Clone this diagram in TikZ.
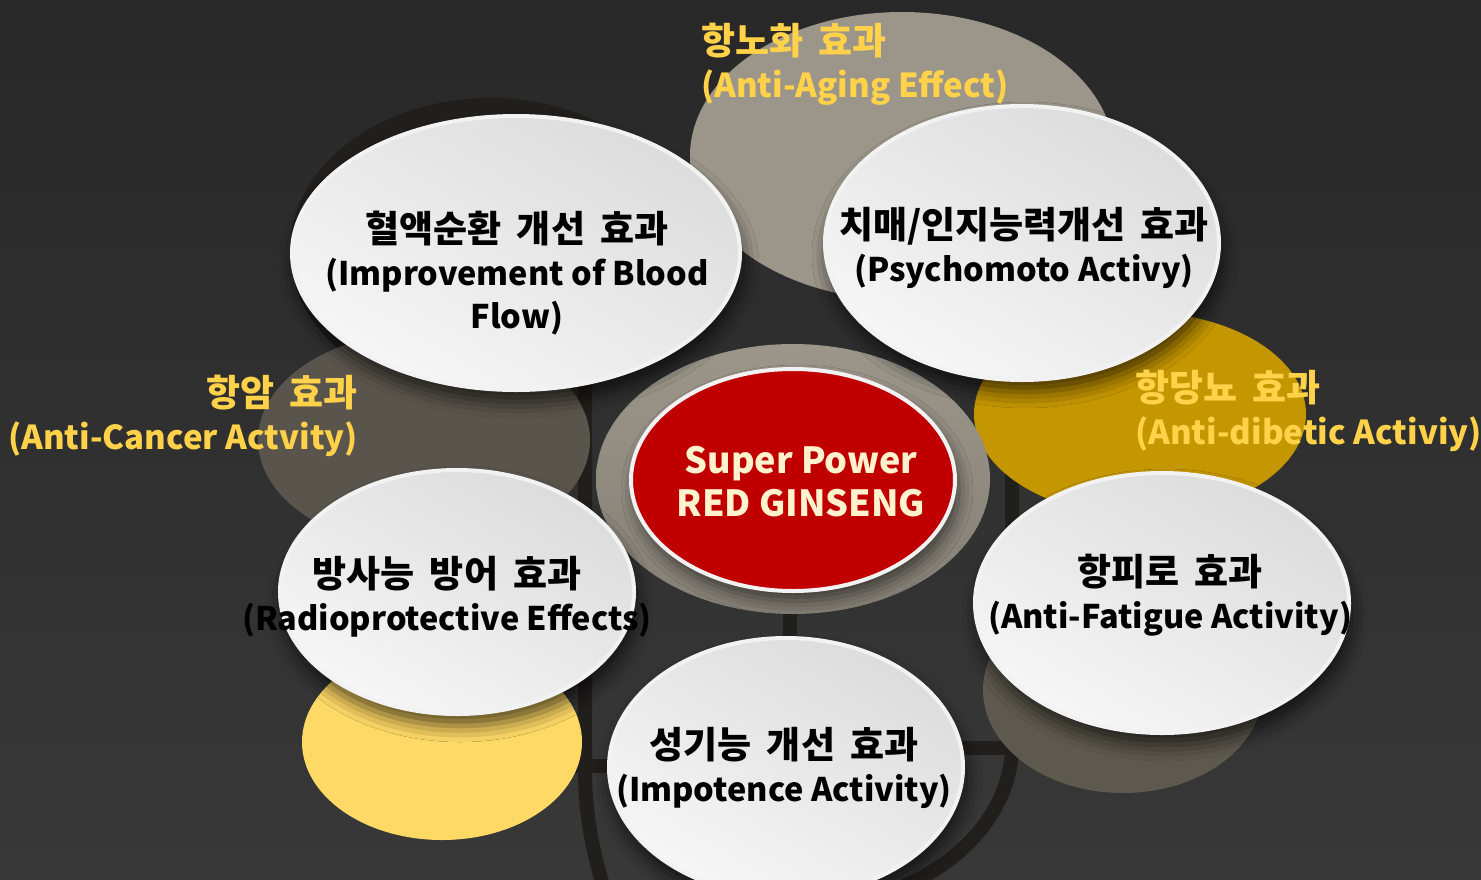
\documentclass[tikz,border=0pt]{standalone}
\usepackage{fontspec}
\setmainfont{Noto Sans CJK KR}
\usetikzlibrary{shapes.geometric,shadows.blur}
\definecolor{bgtop}{HTML}{282828}
\definecolor{bgbot}{HTML}{383838}
\definecolor{lblyellow}{HTML}{FFD24A}
\definecolor{aginggray}{HTML}{9C968A}
\definecolor{cancerbrown}{HTML}{5A554C}
\definecolor{golddark}{HTML}{C49600}
\definecolor{fatiguebrown}{HTML}{5E594E}
\definecolor{paleyellow}{HTML}{FFD966}
\definecolor{ginsengred}{HTML}{C00000}
\definecolor{redtext}{HTML}{FFF2CC}
\definecolor{structdark}{HTML}{211F1B}
\definecolor{whitetop}{HTML}{DCDCDC}
\definecolor{whitebot}{HTML}{F6F6F6}
\definecolor{rimwhite}{HTML}{F2F2F2}
\newcommand\krline[1]{{\fontsize{37}{43}\selectfont\spaceskip=15pt\relax #1}}
\tikzset{
  oval/.style={ellipse, inner sep=0pt, outer sep=0pt},
  colored/.style={oval, draw=none},
  whiteoval/.style={oval, top color=whitetop, bottom color=whitebot, shading angle=-30,
     draw=rimwhite, line width=4pt,
     blur shadow={shadow xshift=3pt, shadow yshift=-12pt, shadow blur radius=16pt, shadow opacity=65}},
  bodytext/.style={align=center, font=\bfseries\fontsize{32.5}{43}\selectfont, text=black, inner sep=0pt},
  labeltext/.style={font=\bfseries\fontsize{33}{43}\selectfont, text=lblyellow, inner sep=0pt},
  structline/.style={draw=structdark, line width=14pt},
}
\begin{document}
\begin{tikzpicture}[x=1pt,y=-1pt]
\useasboundingbox (0,0) rectangle (1481,879);
\shade[top color=bgtop, bottom color=bgbot] (0,0) rectangle (1481,879);

% background structure
\coordinate (sl1) at (585,320);
\coordinate (sl2) at (585,770);
\coordinate (sl3) at (606,895);
\coordinate (sr1) at (1012,360);
\coordinate (sr2) at (1012,745);
\coordinate (sr3) at (880,895);
\coordinate (sc1) at (790,600);
\coordinate (sc2) at (790,655);
\coordinate (sh1) at (570,766);
\coordinate (sh2) at (620,766);
\coordinate (sh3) at (955,748);
\coordinate (sh4) at (1012,748);
\draw[structline] (sl1) -- (sl2) .. controls (585,820) and (595,860) .. (sl3);
\draw[structline] (sr1) -- (sr2) .. controls (1012,810) and (960,870) .. (sr3);
\draw[structline] (sc1) -- (sc2);
\draw[structline] (sh1) -- (sh2);
\draw[structline] (sh3) -- (sh4);

% colored back ellipses
\node[colored, fill=structdark, minimum width=400pt, minimum height=304pt] (blooddark) at (490,250) {};
\node[colored, fill=aginggray, minimum width=424pt, minimum height=288pt] (aging) at (902,156) {};
\node[colored, fill=cancerbrown, minimum width=332pt, minimum height=216pt] (cancer) at (424,440) {};
\node[colored, fill=golddark, minimum width=332pt, minimum height=204pt] (gold) at (1140,414) {};
\node[colored, fill=fatiguebrown, minimum width=280pt, minimum height=206pt] (fatiguebg) at (1123,690) {};
\node[colored, fill=paleyellow, minimum width=280pt, minimum height=196pt] (yellowbg) at (442,742) {};

% centre
\node[colored, top color=aginggray!100, bottom color=aginggray!85!black, minimum width=394pt, minimum height=270pt] (ring) at (793,479) {};
\node[oval, fill=ginsengred, draw=rimwhite, line width=4pt, minimum width=324pt, minimum height=222pt,
  blur shadow={shadow xshift=4pt, shadow yshift=-10pt, shadow blur radius=14pt, shadow opacity=55}] (red) at (793,480) {};
\node[align=center, font=\bfseries\fontsize{36}{43}\selectfont, text=redtext, inner sep=0pt] (redt) at (801,482) {Super Power\\RED GINSENG};

% white ellipses
\node[whiteoval, minimum width=448pt, minimum height=274pt] (blood) at (516,253) {};
\node[whiteoval, minimum width=394pt, minimum height=274pt] (psycho) at (1022,243) {};
\node[whiteoval, minimum width=354pt, minimum height=244pt] (radio) at (457,592) {};
\node[whiteoval, minimum width=374pt, minimum height=260pt] (fatigue) at (1162,603) {};
\node[whiteoval, minimum width=354pt, minimum height=258pt] (impot) at (786,767) {};

% texts in white ellipses
\node[bodytext] (bloodt) at (517,273) {\krline{혈액순환 개선 효과}\\(Improvement of Blood\\Flow)};
\node[bodytext] (psychot) at (1024,248) {\krline{치매/인지능력개선 효과}\\(Psychomoto Activy)};
\node[bodytext] (radiot) at (447,597) {\krline{방사능 방어 효과}\\(Radioprotective Effects)};
\node[bodytext] (fatiguet) at (1170,595) {\krline{항피로 효과}\\(Anti-Fatigue Activity)};
\node[bodytext] (impott) at (784,768) {\krline{성기능 개선 효과}\\(Impotence Activity)};

% yellow labels
\node[labeltext, align=left, anchor=west] (agingt) at (701,64) {\krline{항노화 효과}\\(Anti-Aging Effect)};
\node[labeltext, align=right, anchor=east] (cancert) at (358,416) {\krline{항암 효과}\\(Anti-Cancer Actvity)};
\node[labeltext, align=left, anchor=west] (goldt) at (1135,411) {\krline{항당뇨 효과}\\(Anti-dibetic Activiy)};
\end{tikzpicture}
\end{document}
